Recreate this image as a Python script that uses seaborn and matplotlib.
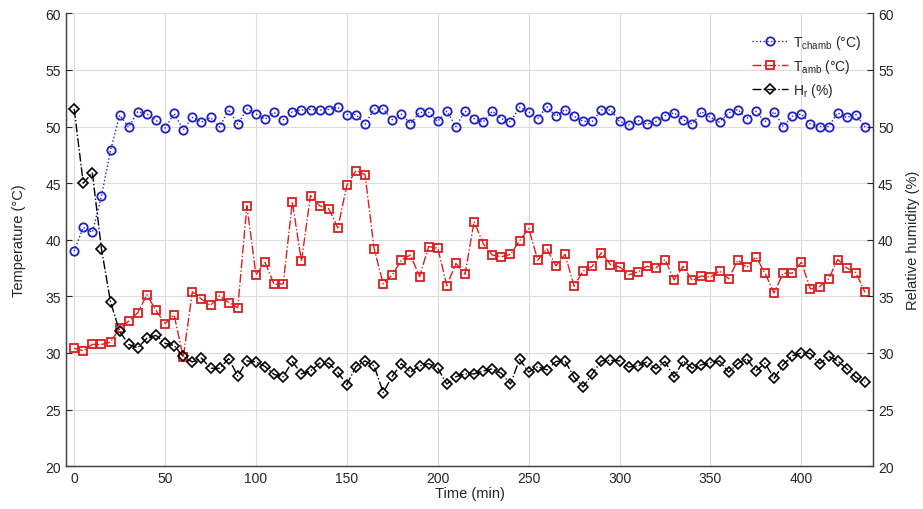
import numpy as np
import pandas as pd
import matplotlib
matplotlib.use("Agg")
import matplotlib.pyplot as plt
import seaborn as sns

# Time axis (min), one reading every 5 minutes
time_min = list(range(0, 440, 5))

# Chamber temperature (°C)
t_chamb = [39.0, 41.1, 40.65, 43.85, 47.9, 51.0, 49.95, 51.3, 51.1, 50.55,
           49.85, 51.15, 49.7, 50.8, 50.4, 50.8, 49.95, 51.5, 50.2, 51.55,
           51.1, 50.65, 51.25, 50.6, 51.3, 51.45, 51.5, 51.45, 51.5, 51.7,
           51.05, 51.05, 50.2, 51.55, 51.55, 50.6, 51.1, 50.25, 51.25, 51.25,
           50.45, 51.35, 50.0, 51.35, 50.7, 50.4, 51.35, 50.7, 50.4, 51.7,
           51.3, 50.7, 51.75, 50.9, 51.5, 50.9, 50.45, 50.45, 51.45, 51.45,
           50.45, 50.15, 50.55, 50.2, 50.45, 50.95, 51.2, 50.6, 50.2, 51.3,
           50.8, 50.4, 51.2, 51.5, 50.7, 51.35, 50.4, 51.3, 50.0, 50.9,
           51.1, 50.2, 50.0, 50.0, 51.2, 50.8, 51.05, 49.95]

# Ambient temperature (°C)
t_amb = [30.4, 30.2, 30.75, 30.75, 30.95, 32.2, 32.8, 33.55, 35.15, 33.75,
         32.6, 33.35, 29.6, 35.4, 34.75, 34.2, 35.05, 34.45, 34.0, 43.0,
         36.9, 38.0, 36.05, 36.1, 43.35, 38.1, 43.9, 43.0, 42.75, 41.05,
         44.8, 46.1, 45.75, 39.2, 36.1, 36.9, 38.2, 38.65, 36.75, 39.4,
         39.25, 35.95, 37.9, 36.95, 41.6, 39.65, 38.65, 38.5, 38.7, 39.9,
         41.0, 38.2, 39.2, 37.7, 38.7, 35.9, 37.25, 37.65, 38.85, 37.8,
         37.6, 36.9, 37.15, 37.65, 37.5, 38.25, 36.45, 37.65, 36.4, 36.8,
         36.7, 37.25, 36.55, 38.2, 37.55, 38.5, 37.05, 35.3, 37.05, 37.05,
         38.0, 35.65, 35.85, 36.55, 38.25, 37.5, 37.1, 35.35]

# Relative humidity (%)
h_r = [51.55, 45.0, 45.9, 39.2, 34.5, 31.9, 30.75, 30.45, 31.3, 31.55,
       30.85, 30.65, 29.7, 29.2, 29.55, 28.65, 28.65, 29.5, 27.95, 29.3,
       29.2, 28.8, 28.1, 27.9, 29.25, 28.15, 28.4, 29.1, 29.1, 28.3,
       27.2, 28.8, 29.3, 28.85, 26.5, 27.95, 29.05, 28.3, 28.85, 29.05,
       28.65, 27.25, 27.9, 28.15, 28.15, 28.4, 28.6, 28.2, 27.25, 29.45,
       28.3, 28.8, 28.5, 29.25, 29.3, 27.85, 27.0, 28.15, 29.3, 29.35,
       29.3, 28.75, 28.85, 29.2, 28.6, 29.25, 27.85, 29.3, 28.65, 28.95,
       29.15, 29.3, 28.3, 29.05, 29.5, 28.4, 29.1, 27.75, 28.95, 29.75,
       30.0, 29.95, 29.05, 29.7, 29.3, 28.6, 27.85, 27.4]

df = pd.DataFrame({"time": time_min, "t_chamb": t_chamb,
                   "t_amb": t_amb, "h_r": h_r})

sns.set_style("white")
plt.rcParams["font.family"] = ["Liberation Sans", "DejaVu Sans"]
plt.rcParams["mathtext.fontset"] = "custom"
plt.rcParams["mathtext.rm"] = "Liberation Sans"
plt.rcParams["mathtext.it"] = "Liberation Sans"

text_col = "#262626"
grid_col = "#dcdcdc"

fig, ax = plt.subplots(figsize=(9.23, 5.10), dpi=100)
fig.subplots_adjust(left=0.0715, right=0.946, bottom=0.084, top=0.972)
ax2 = ax.twinx()

sns.lineplot(data=df, x="time", y="t_chamb", ax=ax, color="#1f1fc8",
             linestyle=":", linewidth=1.0, marker="o", markersize=6,
             markerfacecolor="none", markeredgecolor="#1f1fc8",
             markeredgewidth=1.3, label=r"T$_{\rm chamb}$ (°C)", legend=False)
sns.lineplot(data=df, x="time", y="t_amb", ax=ax, color="#dc1e1e",
             linestyle="-.", linewidth=1.0, marker="s", markersize=5.5,
             markerfacecolor="none", markeredgecolor="#dc1e1e",
             markeredgewidth=1.3, label=r"T$_{\rm amb}$ (°C)", legend=False)
sns.lineplot(data=df, x="time", y="h_r", ax=ax2, color="black",
             linestyle="-.", linewidth=1.0, marker="D", markersize=5.5,
             markerfacecolor="none", markeredgecolor="black",
             markeredgewidth=1.2, label=r"H$_{\rm r}$ (%)", legend=False)

for a in (ax, ax2):
    a.set_xlim(-4.5, 439.5)
    a.set_ylim(20, 60)
    a.set_yticks(np.arange(20, 61, 5))
    a.tick_params(direction="in", length=4.5, labelsize=10,
                  colors=text_col, width=0.8)
    for s in a.spines.values():
        s.set_color("#404040")
        s.set_linewidth(0.9)
    a.spines["top"].set_visible(False)

ax.set_xticks(np.arange(0, 401, 50))
ax.grid(True, color=grid_col, linewidth=0.8)
ax.set_axisbelow(True)
ax2.grid(False)
ax2.tick_params(axis="x", length=0)

ax.set_xlabel("Time (min)", fontsize=10.5, color=text_col, labelpad=1)
ax.set_ylabel("Temperature (°C)", fontsize=10.5, color=text_col, labelpad=14)
ax2.set_ylabel("Relative humidity (%)", fontsize=10.5, color=text_col,
               labelpad=9)

h1, l1 = ax.get_legend_handles_labels()
h2, l2 = ax2.get_legend_handles_labels()
ax2.legend(h1 + h2, l1 + l2, loc="upper right", frameon=False,
           fontsize=10, handlelength=2.6, labelspacing=0.45,
           bbox_to_anchor=(1.0, 0.985), handletextpad=0.3)

fig.savefig("out.png", dpi=100)
